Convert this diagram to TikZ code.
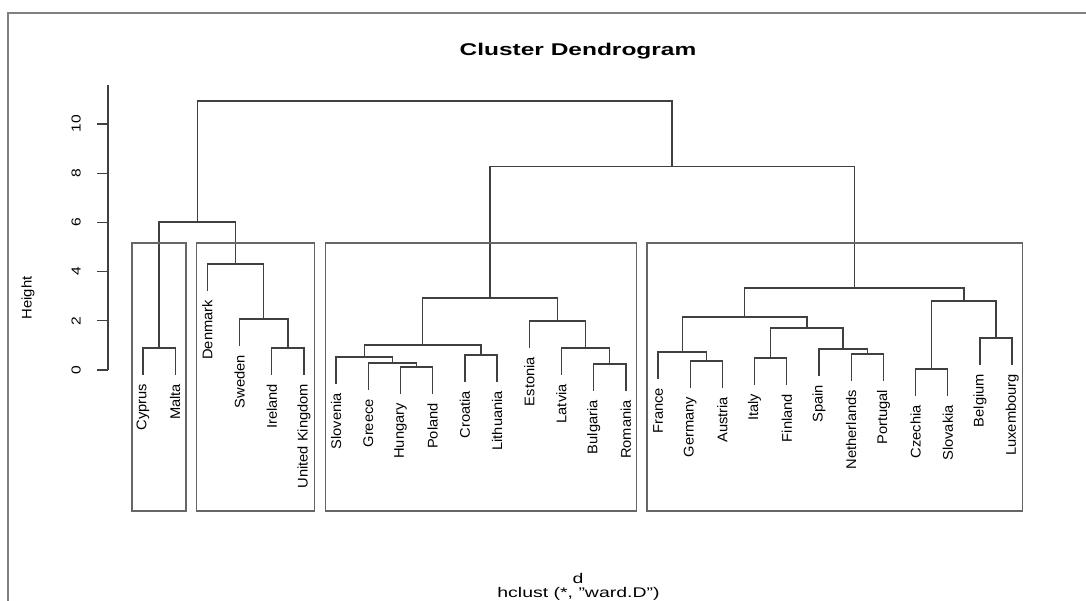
\documentclass[tikz,border=0pt]{standalone}
\usepackage{graphicx}
\usepackage{fontspec}
\setmainfont{Liberation Sans}
\newcommand{\sxs}[2]{\scalebox{#1}[1]{#2}}
\begin{document}
\begin{tikzpicture}[x=1pt,y=1pt,
  frame/.style={draw=black!50, line width=2pt},
  dline/.style={draw=black!75, line width=1.3pt},
  rbox/.style={draw=black!60, line width=1.4pt},
  leaflab/.style={yshift=-9pt, rotate=90, anchor=east, inner sep=0pt, font=\fontsize{14}{16}\selectfont},
  ticklab/.style={rotate=90, anchor=center, inner sep=0pt, font=\fontsize{13}{15}\selectfont},
  axlab/.style={rotate=90, anchor=center, inner sep=0pt, font=\fontsize{14}{16}\selectfont},
  ttl/.style={anchor=center, inner sep=0pt, font=\fontsize{17}{20}\selectfont\bfseries},
  sub/.style={anchor=center, inner sep=0pt, font=\fontsize{14}{16}\selectfont}]
\useasboundingbox (0,0) rectangle (1086,600);
\clip (0,0) rectangle (1086,600);
\draw[frame] (1087,587) -- (8,587) -- (8,-1);

\node[ttl] (title) at (578,549) {\sxs{1.44}{Cluster Dendrogram}};
\node[sub] (dlab) at (578,22) {\sxs{1.39}{d}};
\node[sub] (hlab) at (578.5,6) {\sxs{1.39}{hclust (*, "ward.D")}};

\begin{scope}[x=32.19pt, y=24.6pt, shift={(143pt,230pt)}]
% axis
\coordinate (ax0) at (-1.087,0);
\coordinate (axtop) at (-1.087,11.59);
\draw[dline] (ax0) -- (axtop);
\foreach \h in {0,2,4,6,8,10} {
  \coordinate (t\h) at (-1.087,\h);
  \coordinate (tt\h) at (-1.429,\h);
  \draw[dline] (t\h) -- (tt\h);
  \node[ticklab] (tl\h) at (-2.08,\h) {\sxs{1.2}{\h}};
}
\node[axlab] (ylab) at (-3.573,2.93) {\sxs{1.06}{Height}};

% leaves (x index, parent height - 1.09)
\coordinate (Cyprus) at (0,-0.19);
\coordinate (Malta) at (1,-0.19);
\coordinate (Denmark) at (2,3.22);
\coordinate (Sweden) at (3,0.98);
\coordinate (Ireland) at (4,-0.19);
\coordinate (UK) at (5,-0.19);
\coordinate (Slovenia) at (6,-0.56);
\coordinate (Greece) at (7,-0.81);
\coordinate (Hungary) at (8,-0.97);
\coordinate (Poland) at (9,-0.97);
\coordinate (Croatia) at (10,-0.48);
\coordinate (Lithuania) at (11,-0.48);
\coordinate (Estonia) at (12,0.90);
\coordinate (Latvia) at (13,-0.20);
\coordinate (Bulgaria) at (14,-0.85);
\coordinate (Romania) at (15,-0.85);
\coordinate (France) at (16,-0.36);
\coordinate (Germany) at (17,-0.72);
\coordinate (Austria) at (18,-0.72);
\coordinate (Italy) at (19,-0.60);
\coordinate (Finland) at (20,-0.60);
\coordinate (Spain) at (21,-0.24);
\coordinate (Netherlands) at (22,-0.44);
\coordinate (Portugal) at (23,-0.44);
\coordinate (Czechia) at (24,-1.05);
\coordinate (Slovakia) at (25,-1.05);
\coordinate (Belgium) at (26,0.21);
\coordinate (Luxembourg) at (27,0.21);

% merges
\coordinate (CM) at (0.5,0.90);
\coordinate (IU) at (4.5,0.90);
\coordinate (SIU) at (3.75,2.07);
\coordinate (DSIU) at (2.875,4.31);
\coordinate (L) at (1.6875,6.02);
\coordinate (HP) at (8.5,0.12);
\coordinate (GHP) at (7.75,0.28);
\coordinate (SGHP) at (6.875,0.53);
\coordinate (CL) at (10.5,0.61);
\coordinate (SGHPCL) at (8.6875,1.02);
\coordinate (BR) at (14.5,0.24);
\coordinate (LBR) at (13.75,0.89);
\coordinate (ELBR) at (12.875,1.99);
\coordinate (M) at (10.78125,2.93);
\coordinate (GA) at (17.5,0.37);
\coordinate (FGA) at (16.75,0.73);
\coordinate (IF) at (19.5,0.49);
\coordinate (NP) at (22.5,0.65);
\coordinate (SNP) at (21.75,0.85);
\coordinate (IFSNP) at (20.625,1.71);
\coordinate (FGAIFSNP) at (18.6875,2.15);
\coordinate (CS) at (24.5,0.04);
\coordinate (BL) at (26.5,1.30);
\coordinate (CSBL) at (25.5,2.80);
\coordinate (R) at (22.09375,3.33);
\coordinate (MR) at (16.4375,8.27);
\coordinate (Top) at (9.0625,10.93);

% tree
\draw[dline] (Cyprus) |- (CM) -| (Malta);
\draw[dline] (Ireland) |- (IU) -| (UK);
\draw[dline] (Sweden) |- (SIU) -| (IU);
\draw[dline] (Denmark) |- (DSIU) -| (SIU);
\draw[dline] (CM) |- (L) -| (DSIU);
\draw[dline] (Hungary) |- (HP) -| (Poland);
\draw[dline] (Greece) |- (GHP) -| (HP);
\draw[dline] (Slovenia) |- (SGHP) -| (GHP);
\draw[dline] (Croatia) |- (CL) -| (Lithuania);
\draw[dline] (SGHP) |- (SGHPCL) -| (CL);
\draw[dline] (Bulgaria) |- (BR) -| (Romania);
\draw[dline] (Latvia) |- (LBR) -| (BR);
\draw[dline] (Estonia) |- (ELBR) -| (LBR);
\draw[dline] (SGHPCL) |- (M) -| (ELBR);
\draw[dline] (Germany) |- (GA) -| (Austria);
\draw[dline] (France) |- (FGA) -| (GA);
\draw[dline] (Italy) |- (IF) -| (Finland);
\draw[dline] (Netherlands) |- (NP) -| (Portugal);
\draw[dline] (Spain) |- (SNP) -| (NP);
\draw[dline] (IF) |- (IFSNP) -| (SNP);
\draw[dline] (FGA) |- (FGAIFSNP) -| (IFSNP);
\draw[dline] (Czechia) |- (CS) -| (Slovakia);
\draw[dline] (Belgium) |- (BL) -| (Luxembourg);
\draw[dline] (CS) |- (CSBL) -| (BL);
\draw[dline] (FGAIFSNP) |- (R) -| (CSBL);
\draw[dline] (M) |- (MR) -| (R);
\draw[dline] (L) |- (Top) -| (MR);

% labels
\foreach \c/\t in {Cyprus/Cyprus, Malta/Malta, Denmark/Denmark, Sweden/Sweden, Ireland/Ireland, UK/United Kingdom, Slovenia/Slovenia, Greece/Greece, Hungary/Hungary, Poland/Poland, Croatia/Croatia, Lithuania/Lithuania, Estonia/Estonia, Latvia/Latvia, Bulgaria/Bulgaria, Romania/Romania, France/France, Germany/Germany, Austria/Austria, Italy/Italy, Finland/Finland, Spain/Spain, Netherlands/Netherlands, Portugal/Portugal, Czechia/Czechia, Slovakia/Slovakia, Belgium/Belgium, Luxembourg/Luxembourg}
  \node[leaflab] (lab-\c) at (\c) {\sxs{1.05}{\t}};

% cluster rectangles
\draw[rbox] (-0.34,-5.73) rectangle (1.33,5.16);
\draw[rbox] (1.66,-5.73) rectangle (5.33,5.16);
\draw[rbox] (5.66,-5.73) rectangle (15.33,5.16);
\draw[rbox] (15.66,-5.73) rectangle (27.33,5.16);
\end{scope}
\end{tikzpicture}
\end{document}
